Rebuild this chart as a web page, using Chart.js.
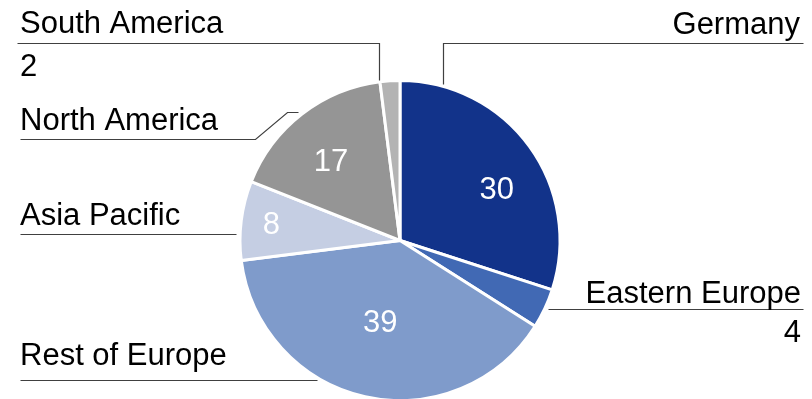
<!DOCTYPE html>
<html>
<head>
<meta charset="utf-8">
<script src="https://cdn.jsdelivr.net/npm/chart.js@4.4.1/dist/chart.umd.min.js"></script>
<style>
  html, body { margin: 0; padding: 0; background: #fff; }
  #wrap { width: 812px; height: 399px; position: relative; }
</style>
</head>
<body>
<div id="wrap"><canvas id="pie"></canvas></div>
<script>
const regions = ["Germany", "Eastern Europe", "Rest of Europe", "Asia Pacific", "North America", "South America"]
const shares = [30, 4, 39, 8, 17, 2]
const colors = ["#12338a", "#4169b4", "#7f9bcb", "#c5cee3", "#959595", "#b3b3b3"]

// value shown inside the slice or next to the outside label
const inside = [true, false, true, true, true, false]
// inner label placement: fraction of radius, angle nudge in degrees
const innerPos = [[0.68, 8.7], null, [0.53, 0.9], [0.81, -0.5], [0.65, -3.7], null]

// outside labels: text anchor, alignment, leader line path, optional value position
const callouts = [
  { tx: 800, ty: 34, align: "right", line: [[803, 43], [443, 43], [443, 84]] },
  { tx: 801, ty: 303, align: "right", line: [[803, 309], [548, 309]], vx: 801, vy: 342 },
  { tx: 20, ty: 365, align: "left", line: [[20, 380], [317, 380]] },
  { tx: 20, ty: 225, align: "left", line: [[20, 234], [236, 234]] },
  { tx: 20, ty: 130, align: "left", line: [[20, 139], [255, 139], [287, 112], [298, 112]] },
  { tx: 20, ty: 33, align: "left", line: [[17, 43], [379, 43], [379, 80]], vx: 20, vy: 76 }
]

const FONT = '31px "Liberation Sans", Arial, sans-serif'

const labelPlugin = {
  id: "callouts",
  afterDatasetsDraw(chart) {
    const ctx = chart.ctx
    const arcs = chart.getDatasetMeta(0).data
    ctx.save()
    ctx.font = FONT
    ctx.textBaseline = "alphabetic"

    callouts.forEach((c, i) => {
      ctx.strokeStyle = "#404040"
      ctx.lineWidth = 1.2
      ctx.beginPath()
      c.line.forEach((p, k) => k ? ctx.lineTo(p[0] + 0.5, p[1] + 0.5) : ctx.moveTo(p[0] + 0.5, p[1] + 0.5))
      ctx.stroke()
      ctx.fillStyle = "#000"
      ctx.textAlign = c.align
      ctx.fillText(regions[i], c.tx, c.ty)
      if (!inside[i]) {
        ctx.fillText(String(shares[i]), c.vx, c.vy)
      }
    })

    ctx.fillStyle = "#fff"
    ctx.textAlign = "center"
    ctx.textBaseline = "middle"
    arcs.forEach((a, i) => {
      if (!inside[i]) return
      const [frac, nudge] = innerPos[i]
      const mid = (a.startAngle + a.endAngle) / 2 + nudge * Math.PI / 180
      const r = a.outerRadius * frac
      ctx.fillText(String(shares[i]), a.x + Math.cos(mid) * r, a.y + Math.sin(mid) * r)
    })
    ctx.restore()
  }
}

new Chart(document.getElementById("pie"), {
  type: "pie",
  data: {
    labels: regions,
    datasets: [{
      data: shares,
      backgroundColor: colors,
      borderColor: "#fff",
      borderWidth: 3,
      clip: false
    }]
  },
  options: {
    responsive: true,
    maintainAspectRatio: false,
    animation: false,
    radius: 160,
    layout: { padding: { top: 82, bottom: 0, left: 0, right: 12 } },
    plugins: { legend: { display: false }, tooltip: { enabled: false } }
  },
  plugins: [labelPlugin]
})
</script>
</body>
</html>
